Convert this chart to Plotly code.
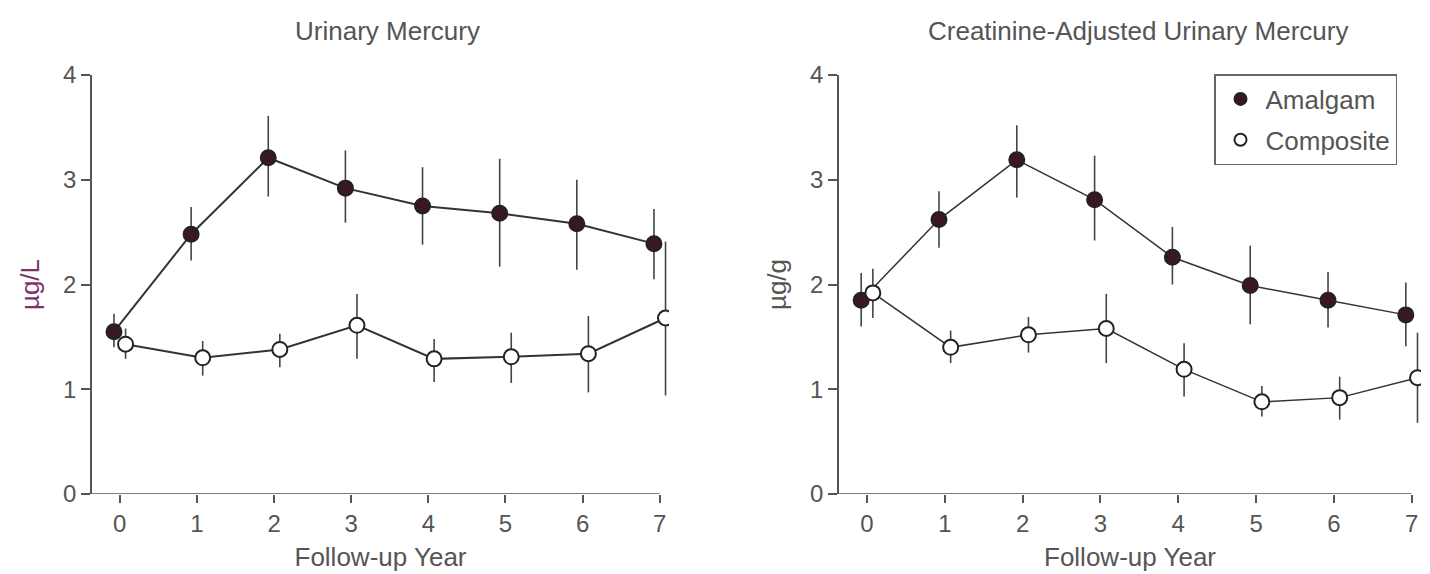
import plotly.graph_objects as go

# Follow-up years
years = [0, 1, 2, 3, 4, 5, 6, 7]

# Urinary mercury (µg/L)
urine_amalgam = [1.55, 2.48, 3.21, 2.92, 2.75, 2.68, 2.58, 2.39]
urine_amalgam_hi = [0.17, 0.26, 0.40, 0.36, 0.37, 0.52, 0.42, 0.33]
urine_amalgam_lo = [0.15, 0.25, 0.37, 0.33, 0.37, 0.51, 0.44, 0.34]
urine_composite = [1.43, 1.30, 1.38, 1.61, 1.29, 1.31, 1.34, 1.68]
urine_composite_hi = [0.15, 0.16, 0.15, 0.30, 0.19, 0.23, 0.36, 0.73]
urine_composite_lo = [0.14, 0.17, 0.17, 0.32, 0.22, 0.25, 0.37, 0.74]

# Creatinine-adjusted urinary mercury (µg/g)
creat_amalgam = [1.85, 2.62, 3.19, 2.81, 2.26, 1.99, 1.85, 1.71]
creat_amalgam_hi = [0.26, 0.27, 0.33, 0.42, 0.29, 0.38, 0.27, 0.31]
creat_amalgam_lo = [0.25, 0.27, 0.36, 0.39, 0.26, 0.37, 0.26, 0.30]
creat_composite = [1.92, 1.40, 1.52, 1.58, 1.19, 0.88, 0.92, 1.11]
creat_composite_hi = [0.23, 0.16, 0.17, 0.33, 0.25, 0.15, 0.20, 0.43]
creat_composite_lo = [0.24, 0.15, 0.17, 0.33, 0.26, 0.14, 0.21, 0.43]

y_ticks = [0, 1, 2, 3, 4]
panel_titles = ["Urinary Mercury", "Creatinine-Adjusted Urinary Mercury"]
y_titles = ["µg/L", "µg/g"]
x_title = "Follow-up Year"
series_names = ["Amalgam", "Composite"]

FONT = "Liberation Sans, Arial, sans-serif"
TEXT = "#555555"
AXIS = "#555555"
LINE = "#333333"
FILL = "#3a1820"
SHIFT = 0.075  # horizontal dodge so the two groups do not overlap
X_LO, X_HI = -0.36, 7.12

fig = go.Figure()


def add_series(xref, yref, vals, hi, lo, filled, name, show_legend, lw):
    xs = [x + (-SHIFT if filled else SHIFT) for x in years]
    fig.add_trace(go.Scatter(
        x=xs, y=vals, mode="lines", xaxis=xref, yaxis=yref,
        line=dict(color=LINE, width=lw), showlegend=False, hoverinfo="skip",
    ))
    fig.add_trace(go.Scatter(
        x=xs, y=vals, mode="markers", xaxis=xref, yaxis=yref, name=name,
        legendgroup=name, showlegend=show_legend,
        marker=dict(size=15, color=FILL if filled else "white",
                    line=dict(color="#222222", width=2)),
        error_y=dict(type="data", symmetric=False, array=hi, arrayminus=lo,
                     color="#444444", thickness=1.6, width=0),
    ))


add_series("x", "y", urine_amalgam, urine_amalgam_hi, urine_amalgam_lo,
           True, series_names[0], False, 2)
add_series("x", "y", urine_composite, urine_composite_hi, urine_composite_lo,
           False, series_names[1], False, 2)
add_series("x2", "y2", creat_amalgam, creat_amalgam_hi, creat_amalgam_lo,
           True, series_names[0], True, 1.5)
add_series("x2", "y2", creat_composite, creat_composite_hi, creat_composite_lo,
           False, series_names[1], True, 1.5)

xaxis_common = dict(
    range=[X_LO, X_HI], tickvals=years, ticks="outside", ticklen=8, tickwidth=1.5,
    tickcolor=AXIS, showline=False, showgrid=False, zeroline=False,
    ticklabelstandoff=0,
    tickfont=dict(family=FONT, size=24, color=TEXT),
    title=dict(text=x_title, font=dict(family=FONT, size=26, color=TEXT), standoff=12),
)
yaxis_common = dict(
    range=[0, 4], tickvals=y_ticks, ticks="outside", ticklen=9, tickwidth=1.5,
    tickcolor=AXIS, showline=True, linecolor=AXIS, linewidth=1.5,
    showgrid=False, zeroline=False,
    tickfont=dict(family=FONT, size=24, color=TEXT),
)

# bottom axis lines run from the y axis to the last year tick
axis_lines = [
    dict(type="line", xref=xr, yref=yr, x0=X_LO, x1=years[-1], y0=0, y1=0,
         line=dict(color=AXIS, width=1.5), layer="above")
    for xr, yr in (("x", "y"), ("x2", "y2"))
]

y_dom = [1 - 494 / 574, 1 - 75 / 574]
fig.update_layout(
    width=1430, height=574,
    margin=dict(l=0, r=0, t=0, b=0, autoexpand=False),
    paper_bgcolor="white", plot_bgcolor="white",
    font=dict(family=FONT, color=TEXT),
    xaxis=dict(xaxis_common, domain=[92 / 1430, 669 / 1430], anchor="y"),
    yaxis=dict(yaxis_common, domain=y_dom, anchor="x",
               title=dict(text=y_titles[0], standoff=16,
                          font=dict(family=FONT, size=26, color="#7a3468"))),
    xaxis2=dict(xaxis_common, domain=[839 / 1430, 1421 / 1430], anchor="y2"),
    yaxis2=dict(yaxis_common, domain=y_dom, anchor="x2",
                title=dict(text=y_titles[1], standoff=16,
                           font=dict(family=FONT, size=26, color=TEXT))),
    shapes=axis_lines,
    legend=dict(
        x=1214 / 1430, y=1 - 74 / 574, xanchor="left", yanchor="top",
        bordercolor="#666666", borderwidth=1.5, bgcolor="white",
        font=dict(family=FONT, size=26, color=TEXT),
        tracegroupgap=4, traceorder="grouped", itemsizing="constant",
        itemwidth=40,
    ),
    annotations=[
        dict(text=panel_titles[0], x=387 / 1430, y=1 - 31 / 574, xref="paper",
             yref="paper", showarrow=False, xanchor="center", yanchor="middle",
             font=dict(family=FONT, size=26, color=TEXT)),
        dict(text=panel_titles[1], x=1138 / 1430, y=1 - 31 / 574, xref="paper",
             yref="paper", showarrow=False, xanchor="center", yanchor="middle",
             font=dict(family=FONT, size=26, color=TEXT)),
    ],
)

fig.write_html("out.html")
